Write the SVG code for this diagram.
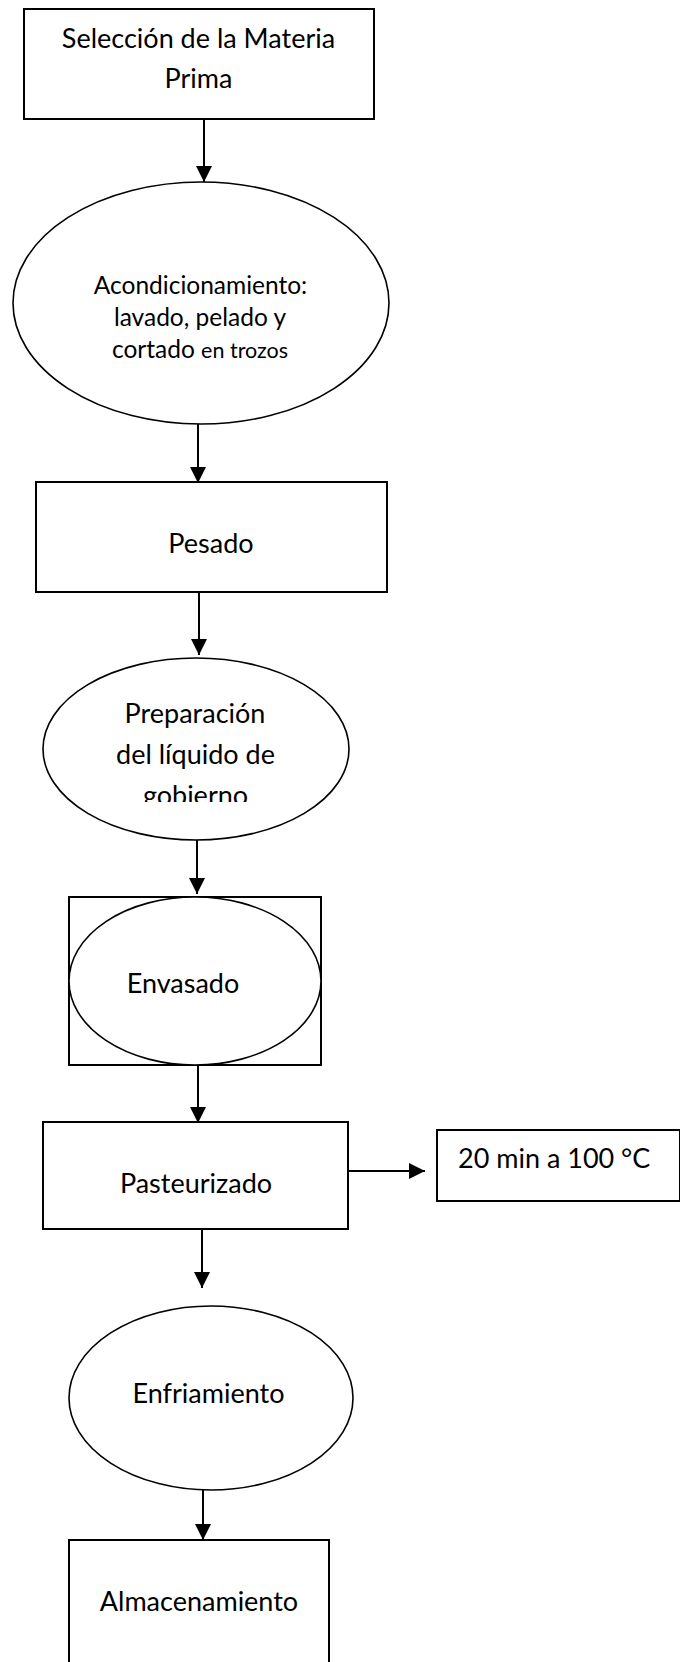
<svg xmlns="http://www.w3.org/2000/svg" width="680" height="1662" viewBox="0 0 680 1662">
  <style>
    .box { fill: #ffffff; stroke: #000000; stroke-width: 2; }
    .ell { fill: #ffffff; stroke: #000000; stroke-width: 1.6; }
    .lbl { font-family: Lato, "Open Sans", "Liberation Sans", sans-serif; font-size: 27px; fill: #000000; text-anchor: middle; }
    .sm { font-size: 24.5px; }
    .xs { font-size: 21.5px; }
    .conn { stroke: #000000; stroke-width: 2; fill: none; marker-end: url(#arr); }
  </style>
  <defs>
    <marker id="arr" markerUnits="userSpaceOnUse" markerWidth="17" markerHeight="17" refX="16" refY="8" orient="auto">
      <path d="M0,0 L16,8 L0,16 Z" fill="#000000"/>
    </marker>
    <clipPath id="clipGob">
      <rect x="0" y="600" width="680" height="202"/>
    </clipPath>
  </defs>
  <rect width="680" height="1662" fill="#ffffff"/>

  <g id="connectors">
    <line class="conn" x1="204" y1="119" x2="204" y2="182"/>
    <line class="conn" x1="198" y1="424" x2="198" y2="483"/>
    <line class="conn" x1="199" y1="592" x2="199" y2="655"/>
    <line class="conn" x1="197" y1="832" x2="197" y2="894"/>
    <line class="conn" x1="198" y1="1062" x2="198" y2="1123"/>
    <line class="conn" x1="348" y1="1171" x2="425" y2="1171"/>
    <line class="conn" x1="202" y1="1226" x2="202" y2="1288"/>
    <line class="conn" x1="203" y1="1490" x2="203" y2="1540"/>
  </g>

  <g id="seleccion">
    <rect class="box" x="24" y="9" width="350" height="110"/>
    <text class="lbl" x="198.5" y="48">Selección de la Materia</text>
    <text class="lbl" x="198.5" y="88">Prima</text>
  </g>

  <g id="acondicionamiento">
    <ellipse class="ell" cx="201" cy="303" rx="188" ry="121"/>
    <text class="lbl sm" x="200.5" y="294">Acondicionamiento:</text>
    <text class="lbl sm" x="200" y="326">lavado, pelado y</text>
    <text class="lbl sm" x="200" y="358">cortado <tspan class="xs">en trozos</tspan></text>
  </g>

  <g id="pesado">
    <rect class="box" x="36" y="482" width="351" height="110"/>
    <text class="lbl" x="211" y="553">Pesado</text>
  </g>

  <g id="preparacion">
    <ellipse class="ell" cx="196" cy="749" rx="153" ry="91"/>
    <text class="lbl" x="195" y="723">Preparación</text>
    <text class="lbl" x="195.5" y="764">del líquido de</text>
    <text class="lbl" x="195.5" y="805" clip-path="url(#clipGob)">gobierno</text>
  </g>

  <g id="envasado">
    <rect class="box" x="69" y="897" width="252" height="168"/>
    <ellipse class="ell" cx="195" cy="981" rx="126" ry="84"/>
    <text class="lbl" x="183" y="993">Envasado</text>
  </g>

  <g id="pasteurizado">
    <rect class="box" x="43" y="1122" width="305" height="107"/>
    <text class="lbl" x="196" y="1193">Pasteurizado</text>
  </g>

  <g id="condicion">
    <rect class="box" x="437" y="1130" width="243" height="71"/>
    <text class="lbl" x="458" y="1168" style="text-anchor:start">20 min a 100 °C</text>
  </g>

  <g id="enfriamiento">
    <ellipse class="ell" cx="211" cy="1398" rx="142" ry="92"/>
    <text class="lbl" x="208.5" y="1403">Enfriamiento</text>
  </g>

  <g id="almacenamiento">
    <rect class="box" x="69" y="1540" width="260" height="140"/>
    <text class="lbl" x="199" y="1611">Almacenamiento</text>
  </g>
</svg>
